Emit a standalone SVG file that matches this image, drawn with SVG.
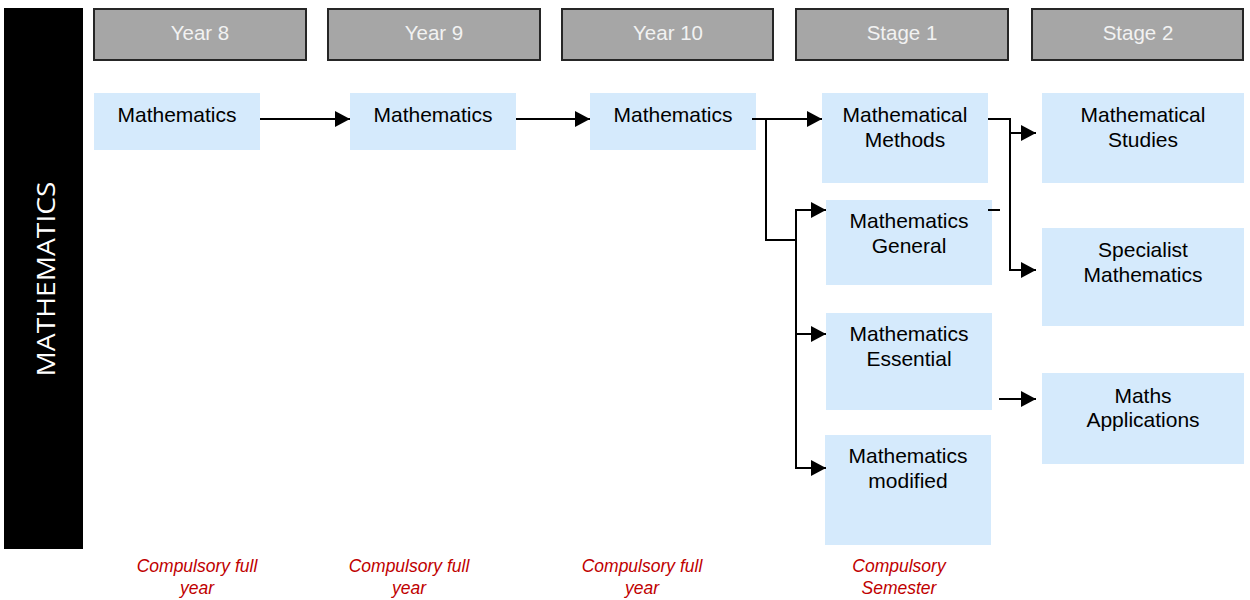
<svg xmlns="http://www.w3.org/2000/svg" width="1250" height="600" viewBox="0 0 1250 600">
<style>
.hdr rect{fill:#a6a6a6;stroke:#262626;stroke-width:2}
.hdr text{fill:#f2f2f2;font-family:"Liberation Sans",Arial,sans-serif;font-size:20.5px;text-anchor:middle}
.node rect{fill:#d5eafc}
.node text{fill:#000;font-family:"Liberation Sans",Arial,sans-serif;font-size:21px;text-anchor:middle}
.note{fill:#c00000;font-family:"Liberation Sans",Arial,sans-serif;font-size:17.5px;font-style:italic;text-anchor:middle}
.conn path{fill:none;stroke:#000;stroke-width:2}
</style>
<defs>
<marker id="ah" markerUnits="userSpaceOnUse" markerWidth="15" markerHeight="16" refX="15" refY="8" orient="auto">
<path d="M0,0 L15,8 L0,16 z" fill="#000"/>
</marker>
</defs>
<rect x="0" y="0" width="1250" height="600" fill="#fff"/>
<g id="side">
<rect x="4" y="8" width="79" height="541" fill="#000"/>
<text transform="translate(55,279) rotate(-90)" text-anchor="middle" font-family="'Open Sans',sans-serif" font-size="26" fill="#fff" textLength="195" lengthAdjust="spacingAndGlyphs">MATHEMATICS</text>
</g>
<g id="h-y8" class="hdr"><rect x="94" y="9" width="212" height="51"/><text x="200" y="40">Year 8</text></g>
<g id="h-y9" class="hdr"><rect x="328" y="9" width="212" height="51"/><text x="434" y="40">Year 9</text></g>
<g id="h-y10" class="hdr"><rect x="562" y="9" width="211" height="51"/><text x="668" y="40">Year 10</text></g>
<g id="h-s1" class="hdr"><rect x="796" y="9" width="212" height="51"/><text x="902" y="40">Stage 1</text></g>
<g id="h-s2" class="hdr"><rect x="1032" y="9" width="211" height="51"/><text x="1138" y="40">Stage 2</text></g>

<g id="n-y8" class="node"><rect x="94" y="93" width="166" height="57"/><text x="177" y="122">Mathematics</text></g>
<g id="n-y9" class="node"><rect x="350" y="93" width="166" height="57"/><text x="433" y="122">Mathematics</text></g>
<g id="n-y10" class="node"><rect x="590" y="93" width="166" height="57"/><text x="673" y="122">Mathematics</text></g>
<g id="n-methods" class="node"><rect x="822" y="93" width="166" height="90"/><text x="905" y="122">Mathematical</text><text x="905" y="147">Methods</text></g>
<g id="n-general" class="node"><rect x="826" y="200" width="166" height="85"/><text x="909" y="228">Mathematics</text><text x="909" y="253">General</text></g>
<g id="n-essential" class="node"><rect x="826" y="313" width="166" height="97"/><text x="909" y="341">Mathematics</text><text x="909" y="366">Essential</text></g>
<g id="n-modified" class="node"><rect x="825" y="435" width="166" height="110"/><text x="908" y="463">Mathematics</text><text x="908" y="488">modified</text></g>
<g id="n-studies" class="node"><rect x="1042" y="93" width="202" height="90"/><text x="1143" y="122">Mathematical</text><text x="1143" y="147">Studies</text></g>
<g id="n-specialist" class="node"><rect x="1042" y="228" width="202" height="98"/><text x="1143" y="257">Specialist</text><text x="1143" y="282">Mathematics</text></g>
<g id="n-applications" class="node"><rect x="1042" y="373" width="202" height="91"/><text x="1143" y="403">Maths</text><text x="1143" y="427">Applications</text></g>

<g id="connectors" class="conn">
<path d="M260,119 H350" marker-end="url(#ah)"/>
<path d="M516,119 H590" marker-end="url(#ah)"/>
<path d="M752,119 H822" marker-end="url(#ah)"/>
<path d="M766,119 V240 H796"/>
<path d="M796,210 V468"/>
<path d="M795,210 H826" marker-end="url(#ah)"/>
<path d="M795,334 H826" marker-end="url(#ah)"/>
<path d="M795,468 H826" marker-end="url(#ah)"/>
<path d="M988,119 H1010 V270 H1036" marker-end="url(#ah)"/>
<path d="M1009,133 H1036" marker-end="url(#ah)"/>
<path d="M988,210 H1000"/>
<path d="M999,399 H1036" marker-end="url(#ah)"/>
</g>

<g id="notes">
<text class="note" x="197" y="572">Compulsory full</text><text class="note" x="197" y="594">year</text>
<text class="note" x="409" y="572">Compulsory full</text><text class="note" x="409" y="594">year</text>
<text class="note" x="642" y="572">Compulsory full</text><text class="note" x="642" y="594">year</text>
<text class="note" x="899" y="572">Compulsory</text><text class="note" x="899" y="594">Semester</text>
</g>
</svg>
